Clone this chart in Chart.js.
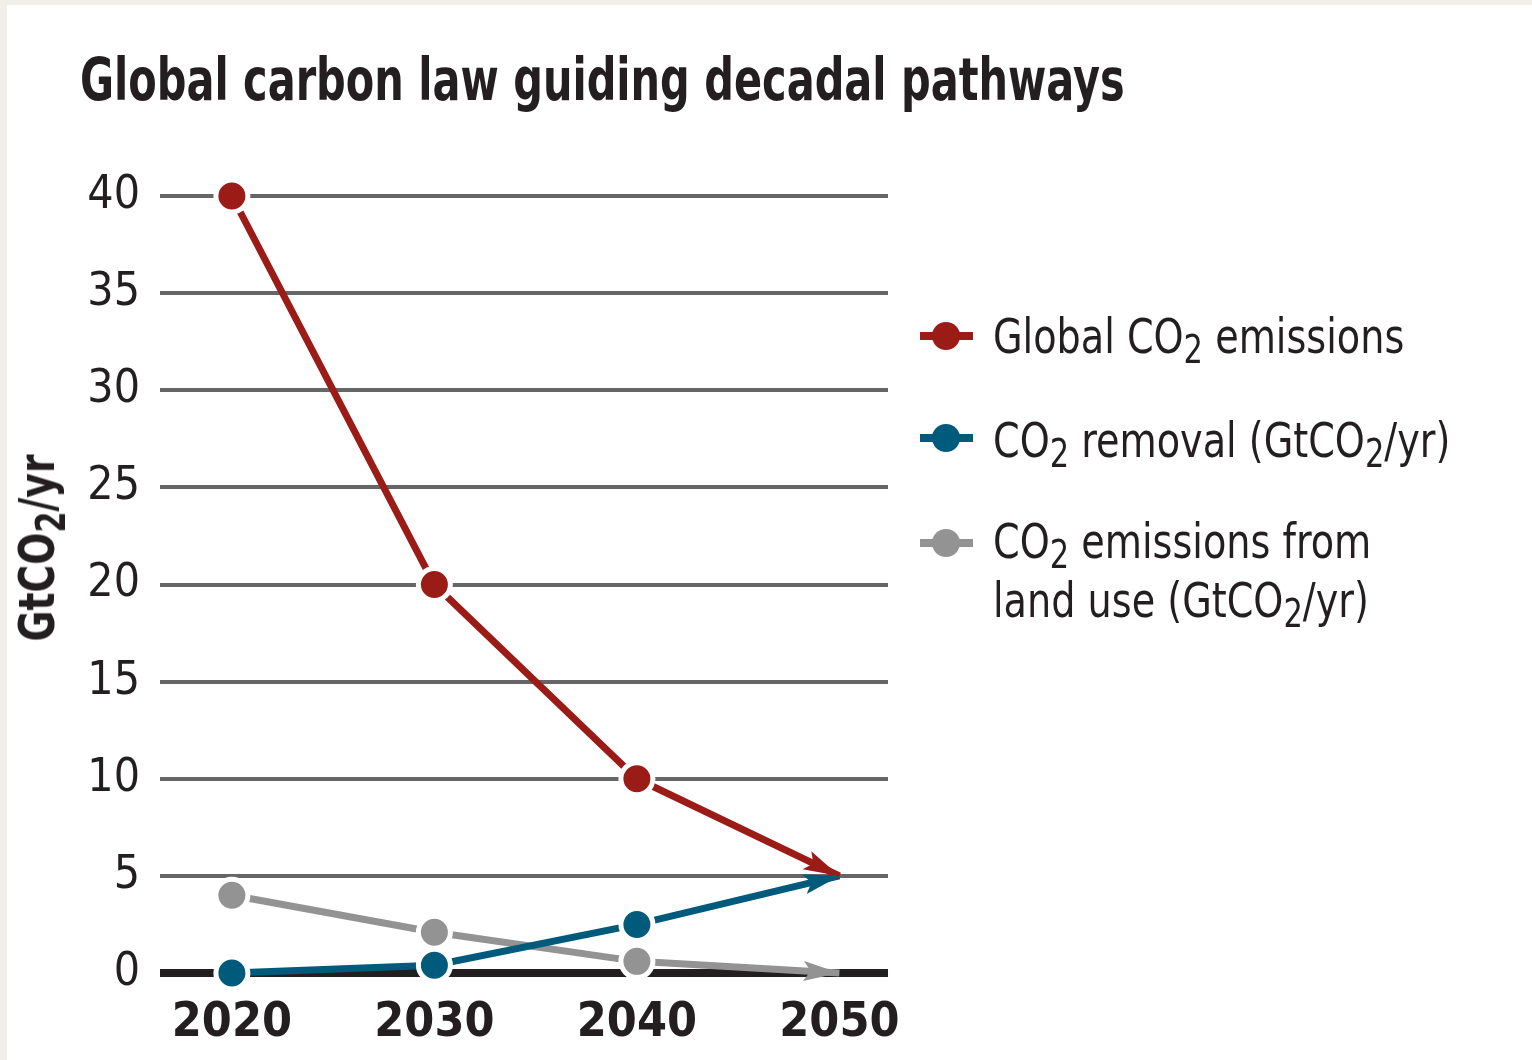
<!DOCTYPE html>
<html>
<head>
<meta charset="utf-8">
<script src="https://cdn.jsdelivr.net/npm/chart.js"></script>
<style>
  html, body { margin: 0; padding: 0; background: #f0f0e8; }
  #page { position: absolute; left: 7px; top: 5px; right: 0; bottom: 0; background: #fff; }
  #wrap { position: absolute; left: 0; top: 0; width: 1532px; height: 1060px; }
  .txt { position: absolute; font-family: "Liberation Sans Narrow", "DejaVu Sans Condensed", sans-serif; color: #231f20; line-height: 1; white-space: nowrap; transform-origin: 0 0; }
  .sub { font-size: 0.8em; position: relative; top: 0.27em; }
  #title { left: 80px; top: 51px; font-size: 58px; font-weight: bold; transform: scaleX(0.795); }
  #ytitle { left: 37px; top: 548px; font-size: 50px; font-weight: bold; transform-origin: 50% 50%; transform: translate(-50%, -50%) rotate(-90deg) scaleX(0.84); }
  .leg { left: 993px; font-size: 48px; transform: scaleX(0.884); }
  .mark { position: absolute; left: 920px; width: 53px; height: 8px; }
  .mark::after { content: ""; position: absolute; left: 12px; top: -10px; width: 28px; height: 28px; border-radius: 50%; background: inherit; }
</style>
</head>
<body>
<div id="page"></div>
<div id="wrap"><canvas id="chart"></canvas></div>
<div id="title" class="txt">Global carbon law guiding decadal pathways</div>
<div id="ytitle" class="txt">GtCO<span class="sub">2</span>/yr</div>

<div class="mark" style="top:332px; background:#9b1b17"></div>
<div class="txt leg" style="top:312px">Global CO<span class="sub">2</span> emissions</div>
<div class="mark" style="top:434px; background:#005a7c"></div>
<div class="txt leg" style="top:416px">CO<span class="sub">2</span> removal (GtCO<span class="sub">2</span>/yr)</div>
<div class="mark" style="top:539px; background:#939393"></div>
<div class="txt leg" style="top:517px">CO<span class="sub">2</span> emissions from</div>
<div class="txt leg" style="top:576px">land use (GtCO<span class="sub">2</span>/yr)</div>

<script>
// data
const years = [2020, 2030, 2040, 2050];
const globalEmissions = [40, 20, 10, 5];
const co2Removal = [0, 0.4, 2.5, 5];
const landUse = [4, 2.1, 0.6, 0];
const yTicks = [0, 5, 10, 15, 20, 25, 30, 35, 40];

const RED = '#9b1b17';
const BLUE = '#005a7c';
const GREY = '#939393';

function toPoints(vals) {
  return years.map((y, i) => ({ x: y, y: vals[i] }));
}

function lineSet(label, vals, color) {
  return {
    label: label,
    data: toPoints(vals),
    borderColor: color,
    backgroundColor: color,
    borderWidth: 7,
    pointRadius: [16, 16, 16, 0],
    pointHoverRadius: [16, 16, 16, 0],
    pointBackgroundColor: color,
    pointBorderColor: '#fff',
    pointBorderWidth: 5,
    tension: 0,
    clip: false,
  };
}

// arrow head at the 2050 end of each line
const arrowHeads = {
  id: 'arrowHeads',
  afterDatasetsDraw(chart) {
    const ctx = chart.ctx;
    chart.data.datasets.forEach((ds, i) => {
      const pts = chart.getDatasetMeta(i).data;
      const a = pts[pts.length - 2], b = pts[pts.length - 1];
      const ang = Math.atan2(b.y - a.y, b.x - a.x);
      const len = 36, half = 10;
      ctx.save();
      ctx.translate(b.x, b.y);
      ctx.rotate(ang);
      ctx.fillStyle = ds.borderColor;
      ctx.beginPath();
      ctx.moveTo(0, 0);
      ctx.lineTo(-len, -half);
      ctx.lineTo(-len * 0.8, 0);
      ctx.lineTo(-len, half);
      ctx.closePath();
      ctx.fill();
      ctx.restore();
    });
  }
};

const tickFont = { family: '"Liberation Sans Narrow", "DejaVu Sans Condensed", sans-serif' };

new Chart(document.getElementById('chart'), {
  type: 'line',
  data: {
    datasets: [
      lineSet('Global CO2 emissions', globalEmissions, RED),
      lineSet('CO2 removal (GtCO2/yr)', co2Removal, BLUE),
      lineSet('CO2 emissions from land use (GtCO2/yr)', landUse, GREY),
    ],
  },
  options: {
    responsive: true,
    maintainAspectRatio: false,
    animation: false,
    events: [],
    layout: { padding: { left: 0, top: 196, right: 644, bottom: 0 } },
    plugins: {
      legend: { display: false },
      title: { display: false },
      tooltip: { enabled: false },
    },
    scales: {
      x: {
        type: 'linear',
        min: 2016.45,
        max: 2052.4,
        afterBuildTicks: (scale) => { scale.ticks = years.map(v => ({ value: v })); },
        afterFit: (scale) => { scale.height = 87; },
        grid: { display: false, drawTicks: false },
        border: { display: false },
        ticks: {
          padding: 22,
          autoSkip: false,
          maxRotation: 0,
          color: '#231f20',
          font: { ...tickFont, size: 48, weight: 'bold' },
          callback: (v) => String(v),
        },
      },
      y: {
        min: 0,
        max: 40,
        afterBuildTicks: (scale) => { scale.ticks = yTicks.map(v => ({ value: v })); },
        afterFit: (scale) => { scale.width = 160; },
        border: { display: false },
        grid: {
          drawTicks: false,
          color: (c) => c.tick && c.tick.value === 0 ? '#231f20' : '#666',
          lineWidth: (c) => c.tick && c.tick.value === 0 ? 8 : 4,
        },
        ticks: {
          padding: 20,
          color: '#231f20',
          font: { ...tickFont, size: 46 },
        },
      },
    },
  },
  plugins: [arrowHeads],
});
</script>
</body>
</html>
